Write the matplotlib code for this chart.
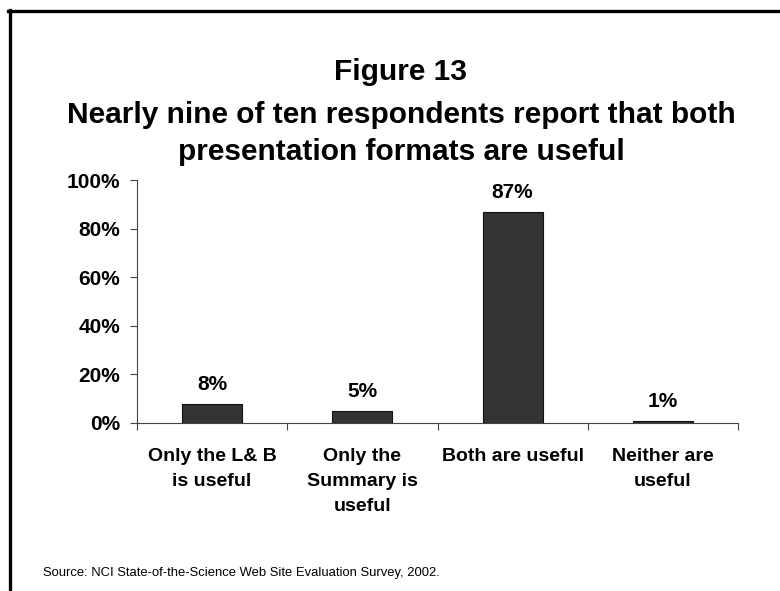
import matplotlib
matplotlib.use("Agg")
import matplotlib.pyplot as plt
from matplotlib.lines import Line2D
from matplotlib.ticker import FixedLocator, FuncFormatter

plt.rcParams['font.family'] = ['Liberation Sans', 'DejaVu Sans']

categories = ["Only the L& B\nis useful", "Only the\nSummary is\nuseful",
              "Both are useful", "Neither are\nuseful"]
values = [8, 5, 87, 1]
value_labels = ["8%", "5%", "87%", "1%"]
y_ticks = [0, 20, 40, 60, 80, 100]
title_lines = ["Figure 13",
               "Nearly nine of ten respondents report that both",
               "presentation formats are useful"]
source = "Source: NCI State-of-the-Science Web Site Evaluation Survey, 2002."

W, H = 780, 591
fig = plt.figure(figsize=(W / 100, H / 100), dpi=100)
fig.patch.set_facecolor("white")

# frame lines along top and left edges
fig.add_artist(Line2D([8 / W, 1.0], [1 - 11 / H, 1 - 11 / H], color="black", lw=2.4))
fig.add_artist(Line2D([9.5 / W, 9.5 / W], [1 - 10 / H, 0.0], color="black", lw=2.4))

ax = fig.add_axes([137 / W, 1 - 423 / H, (738 - 137) / W, (423 - 180) / H])
x = list(range(len(values)))
ax.bar(x, values, width=0.4, color="#333333", edgecolor="#111111", linewidth=0.8, zorder=3)
ax.set_xlim(-0.5, len(values) - 0.5)
ax.set_ylim(0, 100)

for xi, v, lab in zip(x, values, value_labels):
    ax.annotate(lab, (xi, v), xytext=(0, 7), textcoords="offset points",
                ha="center", va="bottom", fontsize=15, fontweight="bold")

ax.yaxis.set_major_locator(FixedLocator(y_ticks))
ax.yaxis.set_major_formatter(FuncFormatter(lambda v, p: f"{int(v)}%"))
ax.tick_params(axis="y", direction="out", length=5, width=0.8, color="#444444",
               labelsize=15, pad=7)
for t in ax.get_yticklabels():
    t.set_fontweight("bold")

# category boundaries as x ticks, names drawn below
ax.set_xticks([i - 0.5 for i in range(len(values) + 1)])
ax.set_xticklabels([])
ax.tick_params(axis="x", direction="out", length=5, width=0.8, color="#444444")
for xi, cat in zip(x, categories):
    ax.text(xi, -0.103, cat, transform=ax.get_xaxis_transform(), ha="center", va="top",
            fontsize=14, fontweight="bold", linespacing=1.6)

for s in ["top", "right"]:
    ax.spines[s].set_visible(False)
for s in ["left", "bottom"]:
    ax.spines[s].set_color("#444444")
    ax.spines[s].set_linewidth(0.8)

ys = [72, 115, 152]
for line, yp in zip(title_lines, ys):
    fig.text(0.514, 1 - yp / H, line, ha="center", va="center",
             fontsize=21.5, fontweight="bold")

fig.text(43 / W, 1 - 573 / H, source, ha="left", va="center", fontsize=9.4)

fig.savefig("out.png", dpi=100, facecolor="white")
